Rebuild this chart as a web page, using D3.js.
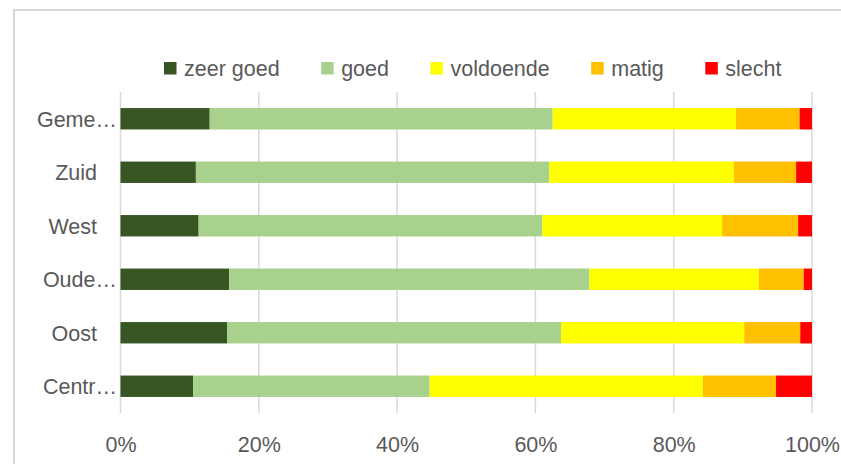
<!DOCTYPE html>
<html><head><meta charset="utf-8">
<script src="https://cdn.jsdelivr.net/npm/d3@7"></script>
<style>
html,body{margin:0;padding:0;background:#fff;}
svg{display:block;}
text{font-family:"Liberation Sans",Arial,sans-serif;fill:#595959;}
</style></head>
<body>
<svg id="chart" width="841" height="464"></svg>
<script>
// Data (top-level arrays)
const categories = ["Gemeente", "Zuid", "West", "Oude Westen", "Oost", "Centrum"];
const categoryLabels = ["Geme…", "Zuid", "West", "Oude…", "Oost", "Centr…"];
const seriesNames = ["zeer goed", "goed", "voldoende", "matig", "slecht"];
const seriesColors = ["#375623", "#A9D18E", "#FFFF00", "#FFC000", "#FF0000"];
const zeerGoed  = [12.9, 10.9, 11.3, 15.7, 15.4, 10.5];
const goed      = [49.6, 51.1, 49.7, 52.1, 48.3, 34.2];
const voldoende = [26.5, 26.7, 26.0, 24.5, 26.5, 39.5];
const matig     = [ 9.2,  9.0, 11.0,  6.5,  8.1, 10.6];
const slecht    = [ 1.8,  2.3,  2.0,  1.2,  1.7,  5.2];
const tickValues = [0, 0.2, 0.4, 0.6, 0.8, 1.0];

const seriesValues = [zeerGoed, goed, voldoende, matig, slecht];
const rows = categories.map((c, i) => {
  const r = {cat: c, label: categoryLabels[i]};
  const tot = seriesValues.reduce((s, arr) => s + arr[i], 0);
  seriesNames.forEach((n, k) => r[n] = seriesValues[k][i] / tot);
  return r;
});

const svg = d3.select("#chart");
const gray = "#d9d9d9";

// chart border
svg.append("path")
  .attr("d", "M14,470 L14,10 L850,10")
  .attr("fill", "none").attr("stroke", gray).attr("stroke-width", 2);

const x = d3.scaleLinear().domain([0, 1]).range([120.5, 812]);
const y = d3.scaleBand().domain(categories).range([92, 413]).paddingInner(0.6).paddingOuter(0.3);

// gridlines
svg.append("g").selectAll("line").data(tickValues).join("line")
  .attr("x1", d => x(d)).attr("x2", d => x(d))
  .attr("y1", 92).attr("y2", 413)
  .attr("stroke", gray).attr("stroke-width", 1.5);

// stacked bars
const stack = d3.stack().keys(seriesNames);
const stacked = stack(rows);
svg.append("g").selectAll("g").data(stacked).join("g")
  .attr("fill", (d, i) => seriesColors[i])
  .selectAll("rect").data(d => d).join("rect")
  .attr("x", d => x(d[0]))
  .attr("width", d => x(d[1]) - x(d[0]))
  .attr("y", d => y(d.data.cat))
  .attr("height", y.bandwidth());

// x axis labels
const xAxis = d3.axisBottom(x).tickValues(tickValues).tickFormat(d3.format(".0%")).tickSize(0).tickPadding(0);
const gx = svg.append("g").attr("transform", "translate(0,437)").call(xAxis);
gx.select(".domain").remove();
gx.selectAll("text").attr("font-size", "21.5px").attr("fill", "#595959")
  .attr("font-family", '"Liberation Sans",Arial,sans-serif');

// y axis labels
const yAxis = d3.axisLeft(y).tickSize(0).tickPadding(0).tickFormat((d, i) => categoryLabels[i]);
const gy = svg.append("g").call(yAxis);
gy.select(".domain").remove();
gy.selectAll(".tick text").each(function(d, i) {
  const t = d3.select(this);
  const lab = categoryLabels[i];
  const truncated = lab.endsWith("…");
  t.text(null).attr("font-size", "21.5px").attr("fill", "#595959")
   .attr("font-family", '"Liberation Sans",Arial,sans-serif')
   .attr("dy", "0.36em").attr("text-anchor", "end")
   .attr("x", truncated ? 117 : 97).text(lab);
});

// legend
const legend = svg.append("g");
let lx = 164;
seriesNames.forEach((n, i) => {
  legend.append("rect").attr("x", lx).attr("y", 62).attr("width", 12.5).attr("height", 12.5)
    .attr("fill", seriesColors[i]);
  const t = legend.append("text").attr("x", lx + 20).attr("y", 75.8)
    .attr("font-size", "21.5px").text(n);
  lx = lx + 20 + t.node().getComputedTextLength() + 41.5;
});
</script>
</body></html>
